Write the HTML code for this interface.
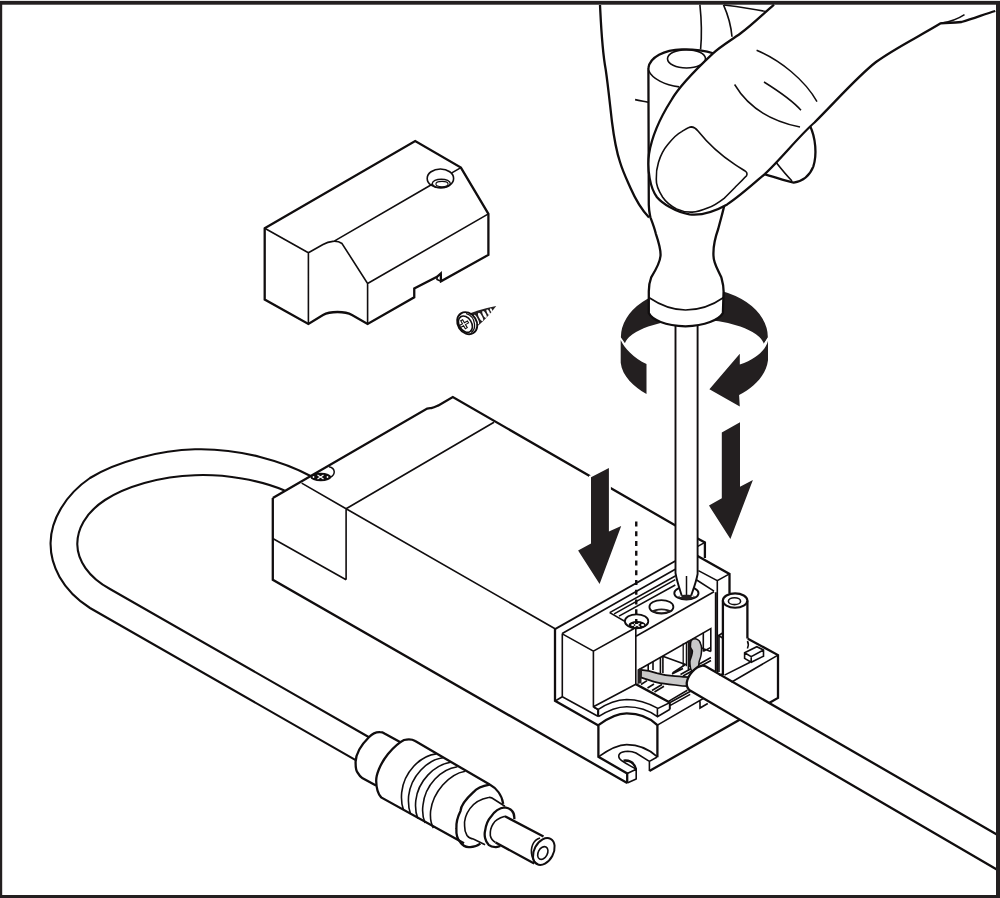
<!DOCTYPE html>
<html><head><meta charset="utf-8"><title>Illustration</title>
<style>
html,body{margin:0;padding:0;background:#fff;overflow:hidden;font-family:"Liberation Sans",sans-serif;}
svg{display:block;}
.o{fill:none;stroke:#100d0e;stroke-width:2.3;stroke-linejoin:miter;stroke-linecap:butt;}
.i{fill:none;stroke:#100d0e;stroke-width:1.6;stroke-linejoin:miter;}
.t{fill:none;stroke:#100d0e;stroke-width:1.5;}
.w{fill:#fff;}
.k{fill:#231f20;stroke:none;}
</style></head>
<body>
<svg width="1000" height="898" viewBox="0 0 1000 898">
<rect x="0" y="0" width="1000" height="898" fill="#fff"/>

<!-- ===== COVER ===== -->
<g id="cover">
<path class="w" d="M264.7,228.3 L415.2,141.1 L460.9,167.6 L488.4,213.9 L488.4,254.9 L441,281.3 L440.8,273.5 L437,276.8 L414.25,288.5 L414.25,297.25 L367.6,324 L352,315 C345,311 330,311 323,315 L308.4,324 L264.7,299.5 Z"/>
<path class="o" d="M264.7,228.3 L415.2,141.1 L460.9,167.6 L488.4,213.9 L488.4,254.9 L441,281.3 L440.8,273.5 L437,276.8 L414.25,288.5 L414.25,297.25 L367.6,324 L352,315 C345,311 330,311 323,315 L308.4,324 L264.7,299.5 Z"/>
<path class="i" d="M264.7,228.3 L308.4,252.7 L308.4,324 M308.4,252.7 L323,244.5 C329,241 337,240 342,243.5 L367.6,283.5 L367.6,324 M367.6,283.5 L488.4,213.9 M334.2,241.1 L432.2,184.2 M451.8,172.9 L460.9,167.6 M437,276.8 L437,279.5 L441,281.3"/>
<ellipse class="i" cx="440.4" cy="178.4" rx="13.2" ry="9.4"/>
<ellipse cx="441.3" cy="183.5" rx="9" ry="4.3" fill="none" stroke="#100d0e" stroke-width="1.4"/>
<ellipse cx="442" cy="184.1" rx="6.1" ry="2.7" fill="none" stroke="#100d0e" stroke-width="1.1"/>
</g>

<!-- loose screw -->
<g id="screw">
<path fill="#231f20" d="M469.5,313.5 C475,311.5 481,309.5 487,308 L496.2,306 L491.5,312 C488,316 484,320.5 480,324 L476,327.5 Z"/>
<ellipse cx="476.2" cy="319.6" rx="1.7" ry="5.2" transform="rotate(-27 476.2 319.6)" fill="#fff"/>
<ellipse cx="480.6" cy="317" rx="1.6" ry="4.6" transform="rotate(-27 480.6 317)" fill="#fff"/>
<ellipse cx="484.5" cy="314.5" rx="1.5" ry="3.8" transform="rotate(-27 484.5 314.5)" fill="#fff"/>
<ellipse cx="488.2" cy="312.2" rx="1.3" ry="3" transform="rotate(-27 488.2 312.2)" fill="#fff"/>
<ellipse cx="491.2" cy="310.2" rx="1" ry="2" transform="rotate(-27 491.2 310.2)" fill="#fff"/>
<ellipse cx="467.2" cy="323.2" rx="9.4" ry="11.6" transform="rotate(-32 467.2 323.2)" fill="#fff" stroke="#100d0e" stroke-width="1.9"/>
<path class="t" d="M466,313.5 C471,315 474,319 474.5,324 C475,328 473.5,331 471,332.5" style="stroke-width:1.3"/>
<ellipse cx="465.4" cy="324.2" rx="6.2" ry="8.8" transform="rotate(-32 465.4 324.2)" fill="#fff" stroke="#100d0e" stroke-width="1.6"/>
<g transform="rotate(-30 464 324.2)">
<path d="M462.9,319.6 h2.2 v3.5 h3.5 v2.2 h-3.5 v3.5 h-2.2 v-3.5 h-3.5 v-2.2 h3.5 Z" fill="#fff" stroke="#100d0e" stroke-width="1.1"/>
</g>
</g>

<!-- ===== CABLE LOOP (left) ===== -->
<path class="i" style="stroke-width:2.1" d="M310.5,476 C285,462 240,448 195,449.3 C160,450 115,462 90,478 C65,495 51,520 50.6,542.4 C50,565 62,590 90,608 L357,760.8"/>
<path class="i" style="stroke-width:2.1" d="M284.5,490.5 C260,480 225,474 195,475.2 C160,476 125,487 105,500 C85,513 77,530 77.3,544.6 C77.5,560 88,577 110,589 L369.5,737.5"/>

<!-- ===== MAIN BOX ===== -->
<g id="box">
<path class="o" d="M272.8,497.9 L427.2,408.6 C429.5,408 430,408.2 431.2,408.2 C434,407.5 436,406.5 438.4,405.4 L452.8,397 L675.5,525.5"/>
<path class="o" d="M272.8,497.9 L272.8,579.8 L627.2,783"/>
<path class="i" d="M301.7,483.1 L346.1,508.8 L555.5,629 M346.1,508.8 L494,422.3 M346.1,508.8 L346.1,579.8 M272.8,538.5 L346.1,579.8"/>
<ellipse cx="320.8" cy="477" rx="10.4" ry="4.3" fill="#100d0e"/>
<path d="M329,466.8 C335,468 336.5,474 330,477.5" class="t"/>
<path d="M317.5,475 L323.5,479 M317.5,479 L323.5,475" stroke="#fff" stroke-width="1.2"/>
<circle cx="313.5" cy="477" r="0.9" fill="#fff"/><circle cx="327.5" cy="477" r="0.9" fill="#fff"/>
</g>

<!-- TERMINAL placeholder -->
<g id="terminal">
<!-- base right (behind cable) -->
<path class="o" d="M747.4,638.4 L778,655.1 L778,697.9 L769.1,703 L649.4,771"/>
<path class="i" d="M657.4,725.1 L778,655.1 M724.5,675.1 L750.1,662.3 M700,701.3 L700,708 L707.8,703.5"/>
<!-- small cube -->
<path class="w" d="M744.6,652.8 L756.8,646.7 L763.5,650 L763.5,656.2 L751.2,662.3 L744.6,658.4 Z"/>
<path class="i" d="M744.6,652.8 L756.8,646.7 L763.5,650 L763.5,656.2 L751.2,662.3 L744.6,658.4 Z M744.6,652.8 L751.2,656.7 L763.5,650 M751.2,656.7 L751.2,662.3"/>
<!-- post -->
<path class="w" d="M722.9,600.6 L747.4,600.6 L747.4,645 L722.9,675 Z"/>
<path class="o" d="M722.9,600.6 L722.9,675 M747.4,600.6 L747.4,638.4"/>
<path class="i" d="M747.4,641 C748.5,643 748.5,646 747.4,648.5"/>
<ellipse cx="735.1" cy="600.6" rx="12.25" ry="7.2" fill="#fff" stroke="#100d0e" stroke-width="2.1"/>
<ellipse class="i" cx="734.5" cy="601.2" rx="6.1" ry="3.4"/>
<!-- back wall -->
<path class="o" d="M697.6,538.5 L704.9,542.4 L704.9,558 M697.6,556 L729.5,573.9 L729.5,593.4"/>
<path class="i" d="M697.8,546.4 L704.9,542.4"/>
<path class="i" d="M698.4,570.6 L717.3,580.6 L729.5,573.9 M717.3,580.6 L717.3,672 M715.6,592.3 L715.6,671 M722.6,633 L718.6,635.5 L722.6,638 M719,636 L719,672 M696.7,580 L714,591.2"/>
<!-- top lines -->
<path class="i" d="M555,629.1 L675.3,561" style="stroke-width:1.8"/>
<path class="i" d="M562.2,633.5 L675.3,569.3 M609.7,612.6 L675.3,576 M614.2,613.9 L675.3,579.6 M619,616.1 L675.3,585 M609.7,612.6 L634.2,626.8"/>

<!-- main box right end frame -->
<path class="o" d="M555,629.1 L555,700.8 L598.4,725.6"/>
<path class="i" d="M562.3,633.5 L562.3,696.8 L597.9,716.3 M562.3,696.8 L556,700.5"/>
<!-- raised block -->
<path class="i" d="M562.3,633.9 L593.4,651.2 L635,628 M593.4,651.2 L593.4,706.8 L597.9,709.6 L597.9,716.3 M593.4,706.8 L635.8,684.3 M635.8,626.8 L635.8,684.5"/>
<!-- terminal front face -->
<path class="i" d="M636,636.3 L714,591.7"/>
<!-- opening -->
<path fill="#fff" d="M638.4,670 L710.8,628.6 L710.8,651.4 L690,694 L668.5,701.4 L638.4,684 Z"/>
<path class="i" d="M638.4,670 L710.8,628.6 L710.8,651.4"/>
<path class="k" d="M637.5,669.5 L641.5,667.5 L641.5,683 L637.5,684 Z"/>
<path class="i" d="M648.2,664.2 L648.2,670 M653,661.5 L653,670 M660.4,657.3 L660.4,673 M662.9,655.9 L662.9,673 M688.4,640.8 L688.4,671 M703.3,632.8 L703.3,651.4 M663.5,656.5 L685.5,664.5 L672.5,673 M703.3,651.4 L710.8,647.4 M700,647.5 L710.8,651.4 M672,674 L683,668.5 M680.5,674.5 L711,657.5 M683,676 L711,660.5"/>
<path d="M683.2,643.6 L683.2,666.3 M686.4,641.9 L686.4,666.3" stroke="#100d0e" stroke-width="1.3"/>
<path class="i" d="M641,684.5 L647,680.6 M647.5,688 L654,684 M652,690.5 L662,684.5 M654.5,692 L664,686.3"/>
<path class="i" d="M636.3,683.9 L668.5,701.4 L669.9,702.8 L669.9,709.1 M668.5,701.4 L687.4,690.2 M669.9,705.6 L690.2,694.4"/>
<!-- gray wires -->
<path fill="#c9c9c9" stroke="#100d0e" stroke-width="1.7" d="M641,669.8 C648,670.3 652,671.5 656.7,673.1 C663,675 669,675.8 675.1,676.1 C680,676.5 685,676.9 688.6,677.1 L687.4,686.2 C682,686 679,685.5 675.1,685 C668,684.2 662,683.5 656.7,682.3 C651,681 646,679 640.8,677.4 Z"/>
<path class="k" d="M638.5,669 L642,669.5 L641.5,678 L638.5,680 Z"/>
<path class="k" d="M688.4,641 L691.3,640.3 C690.6,642 690.3,644.5 690.4,646.7 C690.5,648 691.5,649 692.3,650.6 C692.8,652 692.1,653 691.8,655 C691.5,657 690.2,659 689.9,661.4 C689.8,663 690,665 690.4,667 L688.4,667 Z"/>
<path fill="#c9c9c9" stroke="#100d0e" stroke-width="1.5" d="M696.2,638.9 C698.5,639.8 700,641 700.2,642.8 C701.3,645 701.7,647 701.6,649.1 C701.5,651.5 701.4,653 701.1,655 C700.7,657.5 699.8,659.5 699.2,661.4 C698.9,663 698.9,664 698.7,665.3 C698,666.5 697.2,667.5 696.2,668.2 C695,669.3 694,670 692.8,670.7 L691.8,671.2 C691,669.8 690.5,668.5 690.4,667.3 C690,665 689.8,663 689.9,661.4 C690.2,659 691.5,657 691.8,655 C692.1,653 692.8,652 692.3,650.6 C691.5,649 690.5,648 690.4,646.7 C690.3,644.5 690.6,642 691.3,640.3 C692.5,639.3 694.5,638.7 696.2,638.9 Z"/>
<!-- tab and lower block -->
<path class="i" d="M598,709.6 C607,703.5 617,699.8 626.7,699.5 C638,699.5 650,704 657.9,708.4 L669.6,702.8 L635.7,684.5 M593.9,707.3 L598.4,709.5 L598.4,716.7 M598.4,716.7 C607,711 617,706.7 626.7,706.7 C640,706.7 650,711 657.4,716.7 L669.6,709.5 L669.6,702.8 M657.4,708.8 L657.4,716.7 M669.6,702.8 L722,674"/>
<path class="o" d="M598.4,725.1 C608,718 618,713.4 626.7,713.4 C640,713.4 650,718 657.4,725.1 M598.4,725.1 L598.4,756.8 L627.2,773.4 L627.2,783 M657.4,725.1 L657.4,757.2"/>
<path class="i" d="M598.4,756.8 C608,750 618,744.6 626.7,744.6 C640,744.6 650,750 657.4,756.8 M627.2,773.4 L636.2,769.2 L636.2,779.5 M627.2,783 L636.2,779 M636.2,769.2 C630,765.5 622,762 619.5,758.5 C617.5,755 619.5,751.5 627.8,751.2 C631,751.2 634,752 636,753 L649.4,761.4 L657.2,757 M649.4,761.4 L649.4,771"/>
<path class="o" d="M623.5,760.6 C629,760 634,762.5 636,769"/>
<!-- right cable -->
<path fill="#fff" d="M702.4,665.7 L996.8,834.4 L996.8,869.5 L690.1,690.6 C688,689 686.5,686 686.8,682.4 C688,675 695,667 702.4,665.7 Z"/>
<path class="o" d="M996.8,834.4 L706,666.5 C704.5,665.8 703.5,665.6 702.4,665.7 C695,667 688,675 686.8,682.4 C686.5,686 688,689.2 690.1,690.6 L996.8,869.5"/>
<!-- screws/holes on top -->
<ellipse cx="636.6" cy="621.3" rx="11.7" ry="7" fill="#fff" stroke="#100d0e" stroke-width="1.8"/>
<ellipse cx="637.1" cy="625" rx="8.6" ry="3.9" fill="#100d0e"/>
<ellipse cx="632.6" cy="624.9" rx="1.5" ry="1" fill="#fff"/>
<ellipse cx="642.6" cy="625.1" rx="1.6" ry="1" fill="#fff"/>
<path d="M634.3,623.2 L639.6,626.8 M634.3,626.8 L639.6,623.2" stroke="#fff" stroke-width="1.3"/>
<ellipse cx="661.4" cy="606.9" rx="12" ry="6.8" fill="#fff" stroke="#100d0e" stroke-width="1.8"/>
<path class="k" d="M651.5,611 C655,607.5 668,607.5 671.5,611 C667,614.5 656,614.5 651.5,611 Z"/>
<path fill="#fff" d="M655.5,611.3 C659,609.8 664,609.8 667.5,611.3 C664,612.6 659,612.6 655.5,611.3 Z"/>
<ellipse cx="686.4" cy="593.2" rx="12.1" ry="6.4" fill="#fff" stroke="#100d0e" stroke-width="1.9"/>
</g>
<!-- down arrows + dashed line -->
<path fill="#fff" stroke="#fff" stroke-width="4" d="M591,477.2 L608.9,468 L608.9,531.6 L621.2,525.9 L599.6,584 L578.1,550.4 L591,543.6 Z"/>
<path class="k" d="M591,477.2 L608.9,468 L608.9,531.6 L621.2,525.9 L599.6,584 L578.1,550.4 L591,543.6 Z"/>
<path class="k" d="M721.8,432.4 L740,422.2 L740,486.7 L752.9,480 L730.4,539 L709,505.6 L721.8,498.3 Z"/>
<path d="M636.25,521.4 L636.25,627" stroke="#100d0e" stroke-width="2.4" stroke-dasharray="5 4.75"/>

<!-- DC plug placeholder -->
<g id="plug">
<!-- strain relief -->
<path class="w" d="M368.9,737.2 C373,733 377,732 380.1,732.2 C382,732.2 383.5,732.8 384.5,733.4 L400,742 L376,785.5 L362.2,777.9 C360.5,777 359,775 357.8,772.9 C356,771 355.5,767 355.6,761.7 C356,753 361,745 368.9,737.2 Z"/>
<path class="o" d="M368.9,737.2 C373,733 377,732 380.1,732.2 C382,732.2 383.5,732.8 384.5,733.4 L400,742 M362.2,777.9 L376,785.5 M368.9,737.2 C361,745 356,753 355.6,761.7 C355.5,767 356,771 357.8,772.9 C359,775 360.5,777 362.2,777.9"/>
<!-- body -->
<path class="w" d="M415.2,741 L489.7,784.6 C496,788 503,796 503.2,803.9 L503,830 L469.9,846.6 L381.2,797.4 C378,794 376.3,788 376.2,781 C376,775 380,764 388,754 C393,748 400,742 404,740 C408,739 412,739 415.2,741 Z"/>
<path class="o" d="M415.2,741 L489.7,784.6 C496,788 502,795 503.2,803.9 M464,843.3 L381.2,797.4 C378,794 376.3,788 376.2,781 C376,775 380,764 388,754 C393,748 400,742 404,740 C408,739 412,739 415.2,741"/>
<path class="i" d="M436.2,753.9 C420,756 404,772 401.7,792.3 C401,800 402,806 403.4,809.6 M442.9,757.8 C427,760 411,776 408.6,796 C408,804 409,810 410.6,814 M450.7,762.3 C434,765 418,781 415.8,800.5 C415,808 416,814 417.8,818.5 M457.4,766.7 C441,769 425,785 423,805 C422,812 423,818 425.1,823 M465.2,771.2 C449,774 433,792 430.6,811 C430,818 431,824 433.4,828"/>
<!-- front ring -->
<path class="o" d="M489.7,784.6 C482,786 476,789 473.4,792.2 C466,799 461,805 460.5,810.9 C457,818 456,823 456.4,828.4 C456,835 458,840 460.5,842.5 C463,846 466,847 468.7,847.1 C473,847.5 477,846 480.4,843.6"/>
<path class="i" d="M488.6,797.5 C480,799 474,803 469.9,808.6 C466,814 464,820 464.6,826.1 C464.5,830 465.5,833 467,835.5 C469,838 471,839 473.4,839 L485.1,844.8 M488.6,797.5 C490,797.2 491,797.5 492,798 L504.9,806.2"/>
<!-- second cylinder -->
<path class="w" d="M504.9,807.4 C508,808 511,809 512,810.9 C514,813 514.5,816 514.3,819.1 L500.3,846 C498,847 496,847 495.6,847.1 C493,847 490,846 488.6,844.8 C485,841 484,835 485.1,830.8 C486,824 488,820 490.9,816.8 C494,812 499,808 504.9,807.4 Z"/>
<path class="o" d="M504.9,807.4 C508,808 511,809 512,810.9 C514,813 514.5,816 514.3,819.1 M500.3,846 C498,847 496,847 495.6,847.1 C493,847 490,846 488.6,844.8 C485,841 484,835 485.1,830.8 C486,824 488,820 490.9,816.8 C494,812 499,808 504.9,807.4"/>
<path class="i" d="M504.9,816.2 C499,818 495,820 493.2,823.8 C490.5,828 490,832 490.3,835.5 C491,839 493,841 495.6,842.5"/>
<!-- pin -->
<path class="w" d="M506.1,816.8 L543.5,836.6 L552,845 L550,860 L534.2,863.5 L495.6,842.5 Z"/>
<path class="o" d="M504.9,816.2 L543.5,836.6 M495.6,842.5 L534.2,863.5"/>
<ellipse cx="543.8" cy="851.5" rx="9.6" ry="14.4" transform="rotate(28 543.8 851.5)" fill="#fff" stroke="#100d0e" stroke-width="2"/>
<path class="i" d="M540,838 C533,840 530,848 532,856 C533,860 535,863 538,864"/>
<ellipse cx="542.8" cy="853" rx="4.6" ry="6.8" transform="rotate(28 542.8 853)" fill="none" stroke="#100d0e" stroke-width="1.6"/>
</g>

<!-- ===== HAND ===== -->
<g id="hand">
<!-- rotation arrow bands -->
<path class="k" d="M620.9,338 L620.85,337.3 A73.5,49.8 0 0 1 767.85,337.3 L763.9,343.8 A70.4,28.4 0 0 0 624.6,343.8 Z"/>
<path class="k" d="M620.7,340 C624,348 634,358 646.5,364.1 L646.5,394 C634,387 622,376 620.7,362.8 Z"/>
<path d="M619.5,336.5 L625.5,345" stroke="#fff" stroke-width="1.3"/>
<path class="k" d="M768,340.7 C766,349 758,358 739.8,364.6 L739.8,353.7 L709.4,389.2 L739.8,406.5 L739.1,394.9 C753,388 766,376 768,360.2 Z"/>
<path d="M769.5,336.5 L763,346" stroke="#fff" stroke-width="1.3"/>
<!-- screwdriver shaft -->
<path class="w" d="M675.5,320 L697.6,320 L697.6,574 C696,583 693,590 690.7,597 L682.3,597 C680,590 677,582 675.5,573 Z"/>
<path class="i" d="M675.5,320 L675.5,573 C677,582 680,590 682.3,597.4 M697.6,320 L697.6,574 C696,583 693,590 690.7,596.8" style="stroke-width:1.9"/>
<path class="t" d="M686.5,576 L686.5,596"/>
<path class="k" d="M678,596.5 C682,594.3 691,594.3 695,596.5 C693,599 690,599.8 686.4,599.8 C682.5,599.8 680,599 678,596.5 Z"/>
<ellipse cx="680.5" cy="596.3" rx="1.2" ry="0.8" fill="#fff"/><ellipse cx="692.5" cy="596.3" rx="1.2" ry="0.8" fill="#fff"/>
<!-- handle -->
<path class="w" d="M648.8,69.5 L648.8,205 C649,212 650,215 650.4,217.3 C653,224 655,230 655.8,233.6 C659,243 661,250 660.5,256 C660,262 657,268 651.2,277.3 C649,283 648.8,287 648.8,291.3 L648.8,313.1 C652,320 665,325.5 685.5,326.4 C705,325.5 719,320 722.9,313.1 L723.6,291.3 C723.6,285 722,280 721.3,277.3 C717,268 713.5,263 713.5,256 C713,248 715,238 718.2,229 C721,218 723.5,210 724.4,204.8 L715,53 Z"/>
<path class="o" d="M648.4,68 L648.8,205 C649,212 650,215 650.4,217.3 C653,224 655,230 655.8,233.6 C659,243 661,250 660.5,256 C660,262 657,268 651.2,277.3 C649,283 648.8,287 648.8,291.3 L648.8,313.1 C652,320 665,325.5 685.5,326.4 C705,325.5 719,320 722.9,313.1 L723.6,291.3 C723.6,285 722,280 721.3,277.3 C717,268 713.5,263 713.5,256 C713,248 715,238 718.2,229 C721,218 723.5,210 724.4,204.8"/>
<path class="i" d="M648.8,297.5 C660,305 672,310 685.5,310 C700,310 713,305 723.6,297.5"/>
<!-- handle top -->
<path class="o" d="M648.4,68 C650,57 664,50 682,49.4 C695,49.2 706,51 714,53.5"/>
<path class="i" d="M648.4,70 C652,79 665,85 679.2,86.9"/>
<ellipse class="i" cx="686.5" cy="58.8" rx="19" ry="9.2"/>
<path class="i" d="M635.1,99.6 C640,100.5 644,101.5 648,102.3"/>
<!-- fingers -->
<path class="o" d="M600,5 C601,25 602,50 605.7,69.5 C608,85 610,105 612,122 C614,138 616,150 620,162 C623,172 627,180 630.5,188 C634,196 640,208 649,217.5"/>
<path class="i" d="M699.9,4.7 C701.5,20 702,35 700.6,49.4 M723.5,4.9 C728,15 731,25 732,36.8"/>
<path class="i" d="M724,5 C740,7 755,9 768,12"/>
<!-- index finger tip -->
<path class="w" d="M790,147 L809.6,125 C816,138 817,155 813.3,166.6 C810,175 803,181 793.7,182.6 C785,181 775,177 763.2,173.8 Z"/>
<path class="o" d="M809.6,125 C816,138 817,155 813.3,166.6 C810,175 803,181 793.7,182.6 C785,181 775,177 763.2,173.8"/>
<path class="i" d="M775.8,162.1 C782,170 787,176 792,181"/>
<!-- thumb -->
<path class="w" d="M774,4.6 C762,15 752,25 740.7,33.3 C731,40.5 721,46 712.5,53.9 C690,75 676,92 671.4,100 C660,118 652,135 649,154 C647,170 650,188 657,197.2 C662,203 675,212 689.4,214.3 C700,215.5 712,213 727.2,204.4 C740,196 752,185 765,173.8 C780,160 800,135 814.5,122.5 C838,99 858,76 876,62 C895,48 920,36 940.7,23.3 C948,23 955,22.5 961.5,22 C975,18 985,14 995.3,11 L995,5 Z"/>
<path class="o" d="M774,4.6 C762,15 752,25 740.7,33.3 C731,40.5 721,46 712.5,53.9 C690,75 676,92 671.4,100 C660,118 652,135 649,154 C647,170 650,188 657,197.2 C662,203 675,212 689.4,214.3 C700,215.5 712,213 727.2,204.4 C740,196 752,185 765,173.8 C780,160 800,135 814.5,122.5 C838,99 858,76 876,62 C895,48 920,36 940.7,23.3 C948,23 955,22.5 961.5,22 C975,18 985,14 995.3,11"/>
<path class="i" d="M691.3,126.9 C694,127 696,128.5 698,131 C706,141 719,154 734.7,164.4 C740,168 744,170 745.8,171.5 C747.5,173 747.5,175.5 745.2,177.1 C741,182 736,186 734.7,187.7 C730,192.5 727,195.5 724.1,198.3 C718,203 713,206 708.2,207.8 C703,210 697,212 692.3,212.1 C686,212.5 681,211 676.5,208.9 C670,205.5 666,202 662.7,197.2 C658,190 656,184 656.3,179.3 C656,172 657,167 658.5,162.3 C661,154 664,149 668,144.3 C673,138 677,134 681.7,131.6 C686,129 688.5,127 691.3,126.9 Z"/>
<path class="t" d="M756.6,50.2 C780,60 805,80 817,101.7 M734.6,84.5 C745,102 765,120 800,127 M764,82 C780,92 792,100 801,110.3 M940.7,23.3 C950,22 958,19 964.5,14.7"/>
</g>

<!-- ===== BORDER ===== -->
<rect x="0" y="0" width="1000" height="1" fill="#e4e3e3"/>
<rect x="0" y="1" width="1000" height="3.7" fill="#231f20"/>
<rect x="0" y="1" width="2.2" height="897" fill="#231f20"/>
<rect x="996" y="1" width="4" height="897" fill="#231f20"/>
<rect x="0" y="895" width="1000" height="3" fill="#231f20"/>
</svg>
</body></html>
